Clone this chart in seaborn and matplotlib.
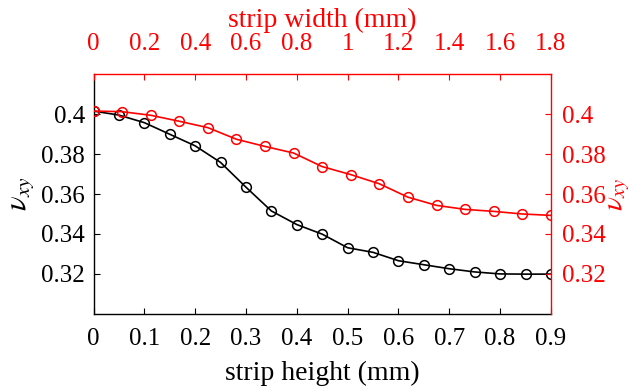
import matplotlib
matplotlib.use("Agg")
import matplotlib.pyplot as plt
import seaborn as sns
import pandas as pd

# strip height series (bottom / left axes, black)
height_mm = [0, 0.05, 0.1, 0.15, 0.2, 0.25, 0.3, 0.35, 0.4, 0.45,
             0.5, 0.55, 0.6, 0.65, 0.7, 0.75, 0.8, 0.85, 0.9]
nu_height = [0.4015, 0.3995, 0.3957, 0.3899, 0.3841, 0.3758, 0.3634, 0.3515, 0.3447, 0.3399,
             0.3331, 0.3308, 0.3266, 0.3246, 0.3226, 0.3210, 0.3200, 0.3199, 0.3199]

# strip width series (top / right axes, red)
width_mm = [0, 0.1125, 0.225, 0.3375, 0.45, 0.5625, 0.675, 0.7875, 0.9,
            1.0125, 1.125, 1.2375, 1.35, 1.4625, 1.575, 1.6875, 1.8]
nu_width = [0.4015, 0.4012, 0.3994, 0.3964, 0.3932, 0.3874, 0.3838, 0.3805, 0.3737,
            0.3697, 0.3651, 0.3584, 0.3543, 0.3523, 0.3513, 0.3500, 0.3493]

height_ticks = [0, 0.1, 0.2, 0.3, 0.4, 0.5, 0.6, 0.7, 0.8, 0.9]
width_ticks = [0, 0.2, 0.4, 0.6, 0.8, 1, 1.2, 1.4, 1.6, 1.8]
nu_ticks = [0.32, 0.34, 0.36, 0.38, 0.4]

df_h = pd.DataFrame({"h": height_mm, "nu": nu_height})
df_w = pd.DataFrame({"w": width_mm, "nu": nu_width})

sns.set_theme(style="white")
plt.rcParams["font.family"] = ["Liberation Serif", "DejaVu Serif"]
plt.rcParams["mathtext.fontset"] = "stix"
plt.rcParams["text.color"] = "black"
plt.rcParams["axes.labelcolor"] = "black"

fig = plt.figure(figsize=(6.34, 3.88), dpi=100)
pos = [0.1475, 0.191, 0.7215, 0.618]
ax1 = fig.add_axes(pos)
ax2 = fig.add_axes(pos, facecolor="none")

sns.lineplot(data=df_h, x="h", y="nu", ax=ax1, color="black", lw=1.2,
             marker="o", ms=7, mfc="none", mec="black", mew=1.1)
sns.lineplot(data=df_w, x="w", y="nu", ax=ax2, color="red", lw=1.2,
             marker="o", ms=7, mfc="none", mec="red", mew=1.1)

ax1.set_xlim(0, 0.9)
ax1.set_ylim(0.30, 0.42)
ax2.set_xlim(0, 1.8)
ax2.set_ylim(0.30, 0.42)

ax1.set_xticks(height_ticks)
ax1.set_xticklabels([f"{t:g}" for t in height_ticks])
ax1.set_yticks(nu_ticks)
ax1.set_yticklabels([f"{t:g}" for t in nu_ticks])
ax2.set_xticks(width_ticks)
ax2.set_xticklabels([f"{t:g}" for t in width_ticks])
ax2.set_yticks(nu_ticks)
ax2.set_yticklabels([f"{t:g}" for t in nu_ticks])

ax2.xaxis.tick_top()
ax2.yaxis.tick_right()
ax2.xaxis.set_label_position("top")
ax2.yaxis.set_label_position("right")

for s in ["top", "right"]:
    ax1.spines[s].set_visible(False)
for s in ["bottom", "left"]:
    ax2.spines[s].set_visible(False)
for s in ["bottom", "left"]:
    ax1.spines[s].set_color("black")
    ax1.spines[s].set_linewidth(1.0)
for s in ["top", "right"]:
    ax2.spines[s].set_color("red")
    ax2.spines[s].set_linewidth(1.0)

ax1.tick_params(direction="in", length=4, width=0.8, labelsize=18,
                colors="black", bottom=True, left=True)
ax1.tick_params(axis="x", pad=10)
ax1.tick_params(axis="y", pad=6)
ax2.tick_params(direction="in", length=4, width=0.8, labelsize=18,
                colors="red", top=True, right=True, bottom=False, left=False)
ax2.tick_params(axis="x", pad=14)
ax2.tick_params(axis="y", pad=8)

ax1.set_xlabel("strip height (mm)", fontsize=20, labelpad=8)
ax1.set_ylabel(r"$\nu_{xy}$", fontsize=22, labelpad=4)
ax2.set_xlabel("strip width (mm)", fontsize=20, color="red", labelpad=4)
ax2.set_ylabel(r"$\nu_{xy}$", fontsize=21, color="red", labelpad=0)

fig.savefig("out.png", dpi=100)
